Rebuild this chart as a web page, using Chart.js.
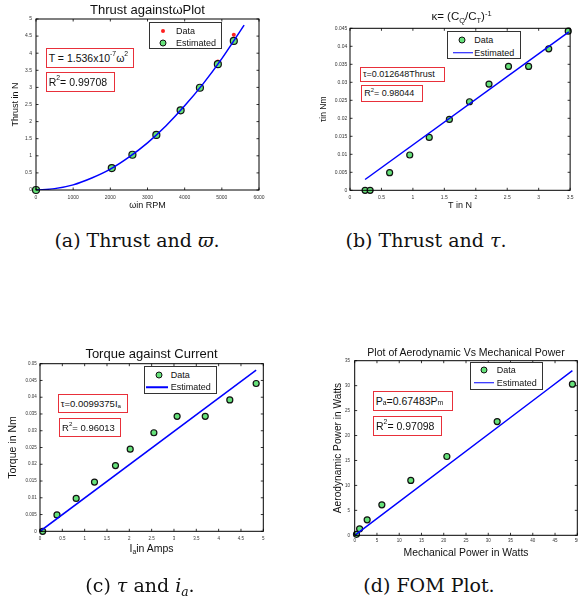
<!DOCTYPE html>
<html><head><meta charset="utf-8">
<script src="https://cdn.jsdelivr.net/npm/chart.js@4.4.0/dist/chart.umd.min.js"></script>
<style>
html,body{margin:0;padding:0;width:578px;height:601px;overflow:hidden;background:#fff;}
body{position:relative;font-family:'Liberation Sans',Arial,sans-serif;color:#000}
canvas{position:absolute}
.t{position:absolute;white-space:nowrap;transform:translate(-50%,-50%);line-height:1;color:#111}
.box{position:absolute;border:1.5px solid #e8303a;background:#fff;box-sizing:border-box;display:flex;align-items:center;padding-left:2px;white-space:nowrap;line-height:1;color:#111}
.leg{position:absolute;border:1px solid #333;background:#fff;box-sizing:border-box}
.mk{position:absolute;transform:translate(-50%,-50%);border-radius:50%;box-sizing:border-box}
.g{width:7px;height:7px;background:#66e27a;border:1.2px solid #111}
.r{width:4px;height:4px;background:#ff2020}
.ln{position:absolute;height:1.5px;background:#0000ff;transform:translateY(-50%)}
.lt{position:absolute;transform:translateY(-50%);white-space:nowrap;font-size:9px;line-height:1;color:#111}
.cap{position:absolute;transform:translate(-50%,-50%);font-family:'DejaVu Serif',serif;font-size:19px;white-space:nowrap;line-height:1;color:#111}
sup{font-size:65%;vertical-align:0;position:relative;top:-0.5em}
sub{font-size:65%;vertical-align:0;position:relative;top:0.35em}
</style></head>
<body>
<canvas id="ca" width="290" height="215" style="left:0;top:0"></canvas>
<canvas id="cb" width="288" height="215" style="left:290px;top:0"></canvas>
<canvas id="cc" width="290" height="225" style="left:0;top:330px"></canvas>
<canvas id="cd" width="300" height="235" style="left:290px;top:330px"></canvas>

<!-- titles -->
<div class="t" style="left:147.5px;top:8.5px;font-size:13px">Thrust againstωPlot</div>
<div class="t" style="left:461.5px;top:17px;font-size:11.5px">κ= (C<sub>Q</sub>/C<sub>T</sub>)<sup>-1</sup></div>
<div class="t" style="left:151.5px;top:353.3px;font-size:13px">Torque against Current</div>
<div class="t" style="left:466px;top:351.7px;font-size:10.5px">Plot of Aerodynamic Vs Mechanical Power</div>
<div class="t" style="left:151.5px;top:548px;font-size:10.5px">I<sub>a</sub>in Amps</div>

<!-- annotation boxes -->
<div class="box" style="left:45.7px;top:48.3px;width:88.3px;height:19.3px;font-size:10.5px">T = 1.536x10<sup>-7</sup>ω<sup>2</sup></div>
<div class="box" style="left:45.7px;top:72.3px;width:69.3px;height:19.3px;font-size:10.5px">R<sup>2</sup>= 0.99708</div>
<div class="box" style="left:360px;top:66.7px;width:85px;height:15.5px;font-size:9px">τ=0.012648Thrust</div>
<div class="box" style="left:361.3px;top:85.3px;width:62px;height:17px;font-size:9px">R<sup>2</sup>= 0.98044</div>
<div class="box" style="left:57.7px;top:394px;width:70.7px;height:19.3px;font-size:9.5px">τ=0.0099375I<sub>a</sub></div>
<div class="box" style="left:59px;top:418.3px;width:61.7px;height:18.3px;font-size:9.5px">R<sup>2</sup>= 0.96013</div>
<div class="box" style="left:372.7px;top:391px;width:80px;height:20px;font-size:10.5px">P<sub>a</sub>=0.67483P<sub>m</sub></div>
<div class="box" style="left:373px;top:416.3px;width:69.3px;height:19.3px;font-size:10.5px">R<sup>2</sup>= 0.97098</div>

<!-- legends -->
<div class="leg" style="left:149px;top:22.3px;width:73px;height:27px"></div>
<div class="mk r" style="left:163.3px;top:31px"></div><div class="lt" style="left:176px;top:31px">Data</div>
<div class="mk g" style="left:163.3px;top:42.7px"></div><div class="lt" style="left:176px;top:42.7px">Estimated</div>

<div class="leg" style="left:447.3px;top:31px;width:73.3px;height:28.3px"></div>
<div class="mk g" style="left:462px;top:40px"></div><div class="lt" style="left:474.3px;top:40px">Data</div>
<div class="ln" style="left:452.7px;width:20px;top:52.7px"></div><div class="lt" style="left:474.3px;top:52.7px">Estimated</div>

<div class="leg" style="left:144px;top:366px;width:73.3px;height:28px"></div>
<div class="mk g" style="left:158.7px;top:374.5px"></div><div class="lt" style="left:170.7px;top:374.5px">Data</div>
<div class="ln" style="left:145.7px;width:22.6px;top:387.3px"></div><div class="lt" style="left:170.7px;top:387.3px">Estimated</div>

<div class="leg" style="left:470px;top:362.3px;width:73.3px;height:27.7px"></div>
<div class="mk g" style="left:484px;top:370.3px"></div><div class="lt" style="left:496.7px;top:370.3px">Data</div>
<div class="ln" style="left:474.3px;width:19.7px;top:382.7px"></div><div class="lt" style="left:496.7px;top:382.7px">Estimated</div>

<!-- captions -->
<div class="cap" style="left:137px;top:240px">(a) Thrust and <i>ϖ</i>.</div>
<div class="cap" style="left:426px;top:240px">(b) Thrust and <i>τ</i>.</div>
<div class="cap" style="left:140px;top:585px">(c) <i>τ</i> and <i>i<sub>a</sub></i>.</div>
<div class="cap" style="left:429px;top:585px">(d) FOM Plot.</div>

<script>
// ---- data ----
// (a) thrust vs rpm
const rpm = [0, 2039, 2594, 3238, 3891, 4410, 4893, 5322];
const thrustData = [0, 0.59, 1.03, 1.55, 2.33, 3.0, 3.76, 4.54];
const thrustEst = [0, 0.64, 1.03, 1.61, 2.33, 2.99, 3.68, 4.36];
const fitRpm = [0, 500, 1000, 1500, 2000, 2500, 3000, 3500, 4000, 4500, 5000, 5600];
const fitThrust = [0, 0.04, 0.15, 0.35, 0.61, 0.96, 1.38, 1.88, 2.46, 3.11, 3.84, 4.82];
// (b) torque vs thrust
const thrustB = [0.24, 0.32, 0.63, 0.95, 1.26, 1.58, 1.90, 2.21, 2.52, 2.84, 3.16, 3.47];
const torqueB = [0, 0, 0.0049, 0.0098, 0.0147, 0.0197, 0.0246, 0.0295, 0.0344, 0.0344, 0.0393, 0.0442];
const fitThrustB = [0.24, 3.48];
const fitTorqueB = [0.003, 0.044];
// (c) torque vs current
const current = [0.06, 0.38, 0.81, 1.22, 1.69, 2.02, 2.55, 3.07, 3.70, 4.25, 4.84];
const torqueC = [0, 0.0049, 0.0098, 0.0147, 0.0196, 0.0245, 0.0294, 0.0343, 0.0343, 0.0392, 0.0441];
const fitCurrent = [0, 4.84];
const fitTorqueC = [0, 0.0481];
// (d) aerodynamic vs mechanical power
const mechPower = [0.4, 1.1, 2.8, 6.1, 12.6, 20.7, 32.0, 48.9];
const aeroPower = [0.2, 1.3, 3.1, 6.1, 11.0, 15.8, 22.8, 30.3];
const fitMech = [0, 48.9];
const fitAero = [0, 33.0];

// ---- styling helpers ----
const FF = 'Liberation Sans, Arial, sans-serif';
const GREEN = '#66e27a', BLUE = '#0000ff', RED = '#ff2020';
const pts = (xs, ys) => xs.map((x, i) => ({x, y: ys[i]}));

const boxTicks = {
  id: 'boxTicks',
  afterDatasetsDraw(chart) {
    const {ctx, chartArea: a, scales: {x, y}} = chart;
    ctx.save();
    ctx.strokeStyle = '#000';
    ctx.lineWidth = 0.8;
    const L = 2.5;
    ctx.beginPath();
    x.ticks.forEach(t => {
      const p = x.getPixelForValue(t.value);
      ctx.moveTo(p, a.bottom); ctx.lineTo(p, a.bottom - L);
      ctx.moveTo(p, a.top); ctx.lineTo(p, a.top + L);
    });
    y.ticks.forEach(t => {
      const p = y.getPixelForValue(t.value);
      ctx.moveTo(a.left, p); ctx.lineTo(a.left + L, p);
      ctx.moveTo(a.right, p); ctx.lineTo(a.right - L, p);
    });
    ctx.stroke();
    ctx.lineWidth = 1;
    ctx.strokeRect(a.left, a.top, a.right - a.left, a.bottom - a.top);
    ctx.restore();
  }
};

function scale(o) {
  return {
    type: 'linear', min: o.min, max: o.max,
    ticks: {
      stepSize: o.step, autoSkip: false, maxRotation: 0, minRotation: 0,
      maxTicksLimit: 30, padding: o.pad,
      font: {family: FF, size: o.fs}, color: '#333',
      callback: v => String(+(+v).toFixed(5))
    },
    grid: {display: false, drawTicks: false},
    border: {display: false},
    title: o.title ? {display: true, text: o.title, color: '#111',
      font: {family: FF, size: o.tfs}, padding: o.tpad} : {display: false},
    afterFit(s) { if (o.isX) s.height = o.fixed; else s.width = o.fixed; }
  };
}

function make(id, datasets, pad, xs, ys) {
  new Chart(document.getElementById(id), {
    type: 'scatter',
    data: {datasets},
    options: {
      responsive: false, animation: false, events: [],
      layout: {padding: pad},
      plugins: {legend: {display: false}, tooltip: {enabled: false}, title: {display: false}},
      scales: {x: scale(Object.assign({isX: true}, xs)), y: scale(ys)}
    },
    plugins: [boxTicks]
  });
}

const circleDs = (label, d, r) => ({label, data: d, pointRadius: r, pointBackgroundColor: GREEN,
  pointBorderColor: '#111', pointBorderWidth: 1.2, showLine: false, order: 2, clip: false});
const lineDs = (label, d) => ({label, data: d, showLine: true, borderColor: BLUE, borderWidth: 1.5,
  pointRadius: 0, order: 1, cubicInterpolationMode: 'monotone', fill: false});

// (a)
make('ca', [
  {label: 'Data', data: pts(rpm, thrustData), pointRadius: 2, pointBackgroundColor: RED,
   pointBorderWidth: 0, showLine: false, order: 3, clip: false},
  circleDs('Estimated', pts(rpm, thrustEst), 3.5),
  lineDs('Fit', pts(fitRpm, fitThrust))
], {left: 0, top: 19, right: 31, bottom: 0},
 {min: 0, max: 6000, step: 1000, pad: 4.7, fs: 5, title: 'ωin RPM', tfs: 9, tpad: {top: 0, bottom: 4.1}, fixed: 25},
 {min: 0, max: 5, step: 0.5, pad: 4, fs: 5, title: 'Thrust in N', tfs: 9, tpad: {top: 10.3, bottom: 0}, fixed: 36});

// (b)
make('cb', [
  circleDs('Data', pts(thrustB, torqueB), 3),
  lineDs('Estimated', pts(fitThrustB, fitTorqueB))
], {left: 0, top: 28.3, right: 5.3, bottom: 0},
 {min: 0, max: 3.5, step: 0.5, pad: 4.4, fs: 5, title: 'T in N', tfs: 9, tpad: {top: 0, bottom: 4.1}, fixed: 24.7},
 {min: 0, max: 0.045, step: 0.005, pad: 2.7, fs: 5, title: 'τin Nm', tfs: 8.5, tpad: {top: 28.2, bottom: 0}, fixed: 60});

// (c)
make('cc', [
  circleDs('Data', pts(current, torqueC), 3),
  lineDs('Estimated', pts(fitCurrent, fitTorqueC))
], {left: 0, top: 33.7, right: 26.7, bottom: 0},
 {min: 0, max: 5, step: 0.5, pad: 4.3, fs: 4.5, title: '', fixed: 23.7},
 {min: 0, max: 0.05, step: 0.005, pad: 3.3, fs: 4.5, title: 'Torque in Nm', tfs: 10.5, tpad: {top: 6.4, bottom: 0}, fixed: 40});

// (d)
make('cd', [
  circleDs('Data', pts(mechPower, aeroPower), 3),
  lineDs('Estimated', pts(fitMech, fitAero))
], {left: 0, top: 30.7, right: 12.7, bottom: 0},
 {min: 0, max: 50, step: 5, pad: 3, fs: 4.5, title: 'Mechanical Power in Watts', tfs: 10.4, tpad: {top: 0, bottom: 5.8}, fixed: 29.7},
 {min: 0, max: 35, step: 5, pad: 4.7, fs: 4.5, title: 'Aerodynamic Power in Watts', tfs: 10.2, tpad: {top: 41.6, bottom: 0}, fixed: 64.7});
</script>
</body></html>
